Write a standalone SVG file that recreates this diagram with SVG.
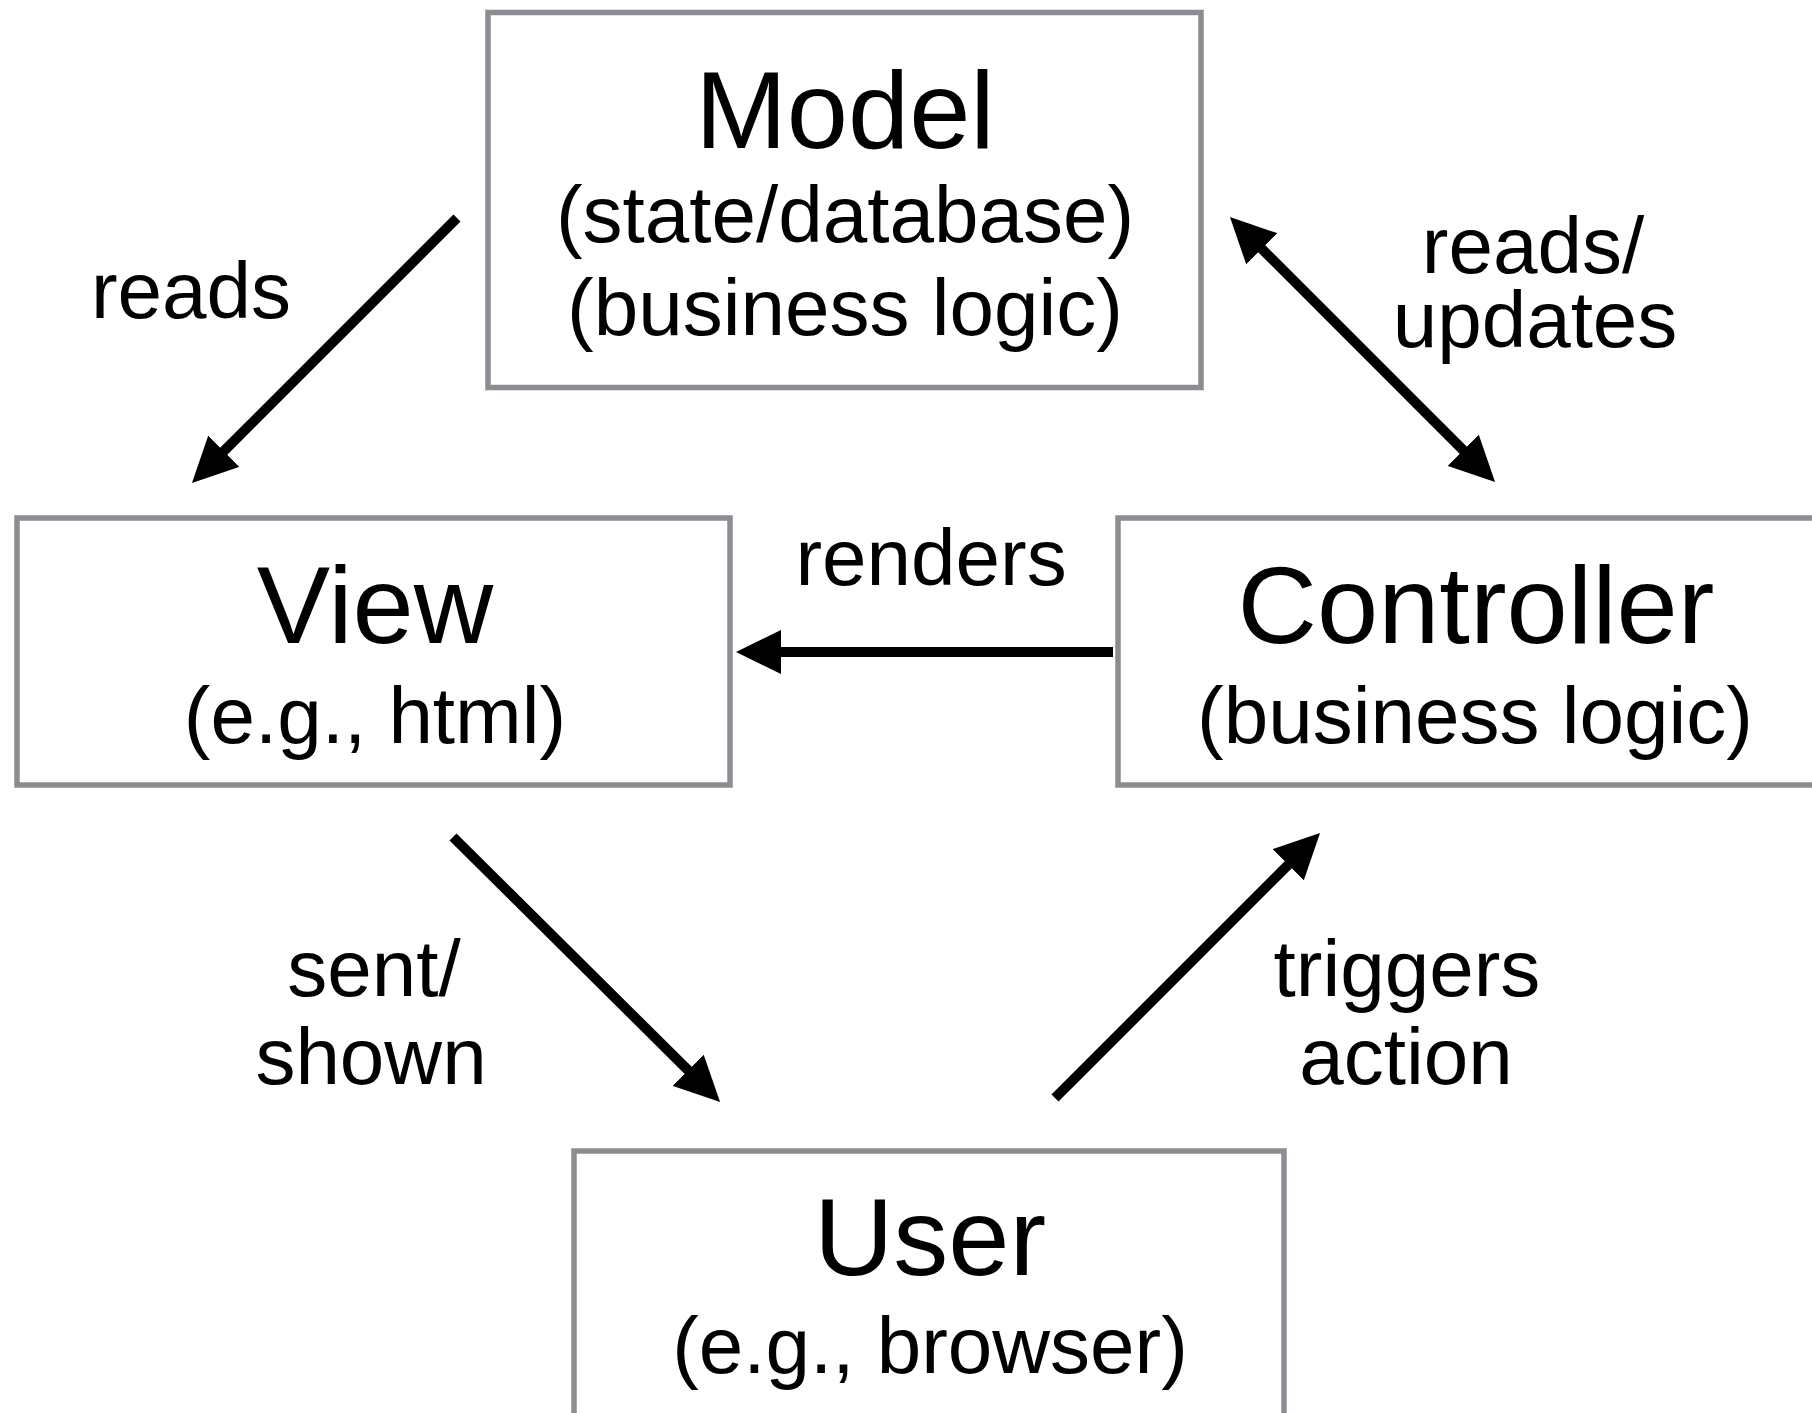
<svg xmlns="http://www.w3.org/2000/svg" width="1812" height="1413" viewBox="0 0 1812 1413">
  <style>
    .box { fill: #ffffff; stroke: #8a8e92; stroke-width: 5.5; }
    .title { font-family: "Liberation Sans", Arial, Helvetica, sans-serif; font-size: 110px; fill: #000; text-anchor: middle; }
    .sub { font-family: "Liberation Sans", Arial, Helvetica, sans-serif; font-size: 80px; fill: #000; text-anchor: middle; }
    .lbl { font-family: "Liberation Sans", Arial, Helvetica, sans-serif; font-size: 80px; fill: #000; text-anchor: middle; }
    .edge { stroke: #000; stroke-width: 10; fill: none; stroke-linecap: butt; }
  </style>
  <defs>
    <marker id="head" markerUnits="userSpaceOnUse" viewBox="0 0 45 44" markerWidth="45" markerHeight="44" refX="25" refY="22" orient="auto-start-reverse">
      <path d="M0,0 L45,22 L0,44 z" fill="#000"/>
    </marker>
  </defs>

  <rect width="1812" height="1413" fill="#ffffff"/>

  <g id="model">
    <rect class="box" x="488" y="12.5" width="713" height="375"/>
    <text class="title" x="845" y="148">Model</text>
    <text class="sub" x="845" y="242">(state/database)</text>
    <text class="sub" x="845" y="335">(business logic)</text>
  </g>

  <g id="view">
    <rect class="box" x="17" y="518" width="713" height="267"/>
    <text class="title" x="375" y="643">View</text>
    <text class="sub" x="375" y="743">(e.g., html)</text>
  </g>

  <g id="controller">
    <rect class="box" x="1118" y="518" width="720" height="267"/>
    <text class="title" x="1476" y="643">Controller</text>
    <text class="sub" x="1475" y="743">(business logic)</text>
  </g>

  <g id="user">
    <rect class="box" x="574" y="1151" width="710" height="300"/>
    <text class="title" x="930" y="1275">User</text>
    <text class="sub" x="930" y="1373">(e.g., browser)</text>
  </g>

  <g id="connectors">
    <line class="edge" x1="457" y1="218" x2="206.1" y2="468.9" marker-end="url(#head)"/>
    <line class="edge" x1="1244.1" y1="231.1" x2="1480.9" y2="467.9" marker-start="url(#head)" marker-end="url(#head)"/>
    <line class="edge" x1="1113" y1="652" x2="756" y2="652" marker-end="url(#head)"/>
    <line class="edge" x1="453" y1="837" x2="705.9" y2="1087.9" marker-end="url(#head)"/>
    <line class="edge" x1="1055" y1="1098" x2="1305.9" y2="847.1" marker-end="url(#head)"/>
  </g>

  <g id="labels">
    <text class="lbl" x="191" y="318">reads</text>
    <text class="lbl"><tspan x="1533" y="273">reads/</tspan><tspan x="1535" y="347">updates</tspan></text>
    <text class="lbl" x="931" y="585">renders</text>
    <text class="lbl"><tspan x="374" y="996">sent/</tspan><tspan x="371" y="1084">shown</tspan></text>
    <text class="lbl"><tspan x="1407" y="996">triggers</tspan><tspan x="1406" y="1084">action</tspan></text>
  </g>
</svg>
